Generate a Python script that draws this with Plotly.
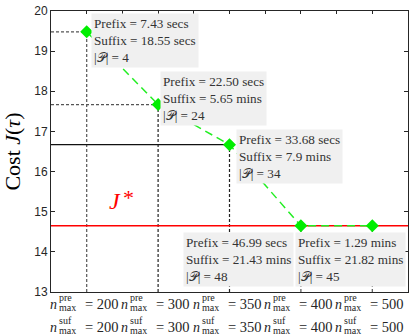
import plotly.graph_objects as go

# ---- data ----
n_pre = [200, 300, 350, 400, 500]
n_suf = [200, 300, 350, 400, 500]
cost = [19.48, 17.67, 16.67, 14.65, 14.65]
j_star = 14.65
prefix_txt = ["7.43 secs", "22.50 secs", "33.68 secs", "46.99 secs", "1.29 mins"]
suffix_txt = ["18.55 secs", "5.65 mins", "7.9 mins", "21.43 mins", "21.82 mins"]
plan_size = [4, 24, 34, 48, 45]
y_ticks = [13, 14, 15, 16, 17, 18, 19, 20]

xs = list(range(1, len(n_pre) + 1))
SERIF = "Liberation Serif"
TXT = "#262626"

fig = go.Figure()

# guide lines from axis to points
guide_h_style = ["gray", "gray", "solid", None, None]
guide_v_col = ["#555555", "#222222", "#222222", "#555555", "#555555"]
for i, (x, c) in enumerate(zip(xs, cost)):
    fig.add_trace(go.Scatter(x=[x, x], y=[y_ticks[0], c], mode="lines",
                             line=dict(color=guide_v_col[i], width=1.2, dash="3px,2px"),
                             hoverinfo="skip", showlegend=False))
    if guide_h_style[i] == "gray":
        fig.add_trace(go.Scatter(x=[0.5, x], y=[c, c], mode="lines",
                                 line=dict(color="#555555", width=1.2, dash="3px,2px"),
                                 hoverinfo="skip", showlegend=False))
    elif guide_h_style[i] == "solid":
        fig.add_trace(go.Scatter(x=[0.5, x], y=[c, c], mode="lines",
                                 line=dict(color="#111111", width=1.2),
                                 hoverinfo="skip", showlegend=False))

# J* line
fig.add_trace(go.Scatter(x=[0.5, 5.5], y=[j_star, j_star], mode="lines",
                         line=dict(color="#ff0000", width=1.5),
                         hoverinfo="skip", showlegend=False))

# main series
fig.add_trace(go.Scatter(x=xs, y=cost, mode="lines+markers",
                         line=dict(color="#22ee22", width=1.5, dash="8px,5px"),
                         marker=dict(symbol="diamond", size=10, color="#00ee00"),
                         showlegend=False))

ann = []
# info boxes (anchor offsets in pixels relative to each point)
box_off = [(4, 19, "left"), (2, 34, "left"), (6, 16, "left"), (-7, -6, "right"), (-77, -6, "left")]
for i, (x, c) in enumerate(zip(xs, cost)):
    dx, dy, xa = box_off[i]
    txt = (f"Prefix = {prefix_txt[i]}<br>Suffix = {suffix_txt[i]}<br>"
           f"|𝒫| = {plan_size[i]}")
    ann.append(dict(x=x, y=c, xref="x", yref="y", xshift=dx, yshift=dy,
                    xanchor=xa, yanchor="top", align="left", showarrow=False,
                    text=txt, bgcolor="#f0f0f0", borderpad=2,
                    font=dict(family=SERIF, size=13.2, color="#333333")))

# J* label (letter + raised star)
ann.append(dict(x=1.48, y=j_star, xref="x", yref="y", xshift=-6, yshift=25, showarrow=False,
                text="<i>J</i>", font=dict(family=SERIF, size=24, color="#ff0000")))
ann.append(dict(x=1.48, y=j_star, xref="x", yref="y", xshift=8, yshift=28, showarrow=False,
                text="*", font=dict(family=SERIF, size=22, color="#ff0000")))

# x tick labels, two rows
for x, p, s in zip(xs, n_pre, n_suf):
    for row, (sup, val, base) in enumerate([("pre", p, -12), ("suf", s, -35)]):
        ann.append(dict(x=x, y=y_ticks[0], xref="x", yref="y", xshift=-28, yshift=base,
                        xanchor="right", yanchor="middle", showarrow=False, text="<i>n</i>",
                        font=dict(family=SERIF, size=14, color=TXT)))
        ann.append(dict(x=x, y=y_ticks[0], xref="x", yref="y", xshift=-30, yshift=base + 7,
                        xanchor="left", yanchor="middle", showarrow=False, text=sup,
                        font=dict(family=SERIF, size=10, color=TXT)))
        ann.append(dict(x=x, y=y_ticks[0], xref="x", yref="y", xshift=-30, yshift=base - 3,
                        xanchor="left", yanchor="middle", showarrow=False, text="max",
                        font=dict(family=SERIF, size=10, color=TXT)))
        ann.append(dict(x=x, y=y_ticks[0], xref="x", yref="y", xshift=-4, yshift=base,
                        xanchor="left", yanchor="middle", showarrow=False, text=f"= {val}",
                        font=dict(family=SERIF, size=14.5, color=TXT)))

fig.update_layout(
    width=409, height=335,
    margin=dict(l=51, r=1, t=11, b=43),
    paper_bgcolor="white", plot_bgcolor="white",
    annotations=ann,
    xaxis=dict(range=[0.5, 5.5], showticklabels=False, showgrid=False, zeroline=False,
               showline=True, linecolor=TXT, linewidth=1, mirror=True,
               ticks="", fixedrange=True),
    xaxis2=dict(range=[0.5, 5.5], overlaying="x", side="top", showticklabels=False,
                showgrid=False, zeroline=False, ticks="inside", ticklen=3, tickcolor=TXT,
                tick0=0.5, dtick=0.5, matches="x"),
    yaxis=dict(range=[13, 20], tickvals=y_ticks, showgrid=False, zeroline=False,
               showline=True, linecolor=TXT, linewidth=1, mirror="ticks",
               ticks="inside", ticklen=4, tickcolor=TXT,
               tickfont=dict(family="Liberation Sans", size=12, color=TXT),
               title=dict(text="Cost <i>J</i>(<i>τ</i>)", standoff=8,
                          font=dict(family=SERIF, size=22, color="black"))),
)
# dummy trace to show xaxis2
fig.add_trace(go.Scatter(x=[0.5], y=[13], xaxis="x2", mode="markers",
                         marker=dict(opacity=0), hoverinfo="skip", showlegend=False))

fig.write_html("out.html", config={"displayModeBar": False},
               post_script="document.body.style.margin='0';document.body.style.overflow='hidden';")
